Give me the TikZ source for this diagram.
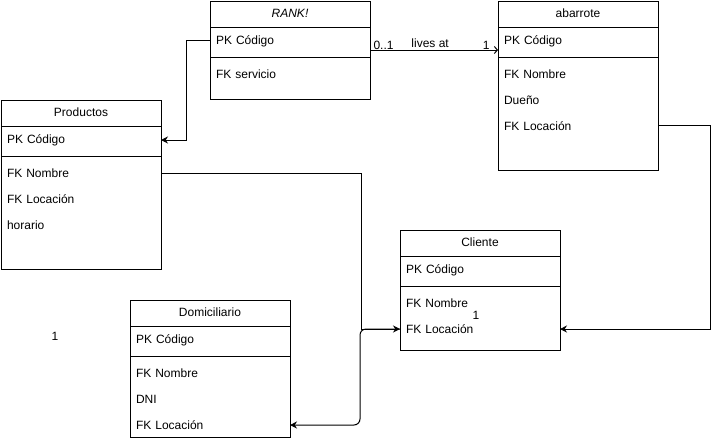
\documentclass[tikz,border=0pt]{standalone}
\usepackage{fontspec}
\setmainfont{Liberation Sans}
\usetikzlibrary{shapes.multipart, arrows.meta}

\begin{document}
\begin{tikzpicture}[x=1pt, y=-1pt,
    ENT/.style = {rectangle split, rectangle split parts=3,
                    draw, line width=1pt,
                    anchor=north west,
                    text width=148pt, align=left,
                    font=\fontsize{12}{26}\selectfont,
                    inner xsep=6pt, inner ysep=0pt, outer sep=0pt},
    LBL/.style = {font=\fontsize{12}{14}\selectfont, inner sep=0pt},
    FK/.style = {line width=1pt, -{Stealth[length=7pt,width=7pt]}}
                            ]
    \useasboundingbox (0,0) rectangle (719,442);

    \node (rank)  [ENT] at (210,1) {\nodepart{one}\rule[-9pt]{0pt}{25pt}\hfill\textit{RANK!}\hfill\mbox{}
                        \nodepart{two}\rule[-12pt]{0pt}{29pt}PK Código
                        \nodepart{three}\rule[-20pt]{0pt}{41pt}FK servicio
                        };
    \node (abarrote)  [ENT] at (498,1) {\nodepart{one}\rule[-9pt]{0pt}{25pt}\hfill abarrote\hfill\mbox{}
                        \nodepart{two}\rule[-12pt]{0pt}{29pt}PK Código
                        \nodepart{three}\rule{0pt}{21pt}FK Nombre\\ Dueño\\ FK Locación\rule[-39pt]{0pt}{39pt}
                        };
    \node (prod)  [ENT] at (1,100) {\nodepart{one}\rule[-9pt]{0pt}{25pt}\hfill Productos\hfill\mbox{}
                        \nodepart{two}\rule[-12pt]{0pt}{29pt}PK Código
                        \nodepart{three}\rule{0pt}{21pt}FK Nombre\\ FK Locación\\ horario\rule[-39pt]{0pt}{39pt}
                        };
    \node (cliente)  [ENT] at (400,230) {\nodepart{one}\rule[-9pt]{0pt}{25pt}\hfill Cliente\hfill\mbox{}
                        \nodepart{two}\rule[-12pt]{0pt}{29pt}PK Código
                        \nodepart{three}\rule{0pt}{21pt}FK Nombre\\ FK Locación\rule[-16pt]{0pt}{16pt}
                        };
    \node (dom)  [ENT] at (130,300) {\nodepart{one}\rule[-9pt]{0pt}{25pt}\hfill Domiciliario\hfill\mbox{}
                        \nodepart{two}\rule[-12pt]{0pt}{29pt}PK Código
                        \nodepart{three}\rule{0pt}{21pt}FK Nombre\\ DNI\\ FK Locación\rule[-7pt]{0pt}{7pt}
                        };

    \node (uno1) [LBL] at (476,315) {1};
    \node (uno2) [LBL] at (55,336) {1};

    \draw[FK] ([yshift=-39pt]rank.north west) -- ++(-24,0) |- ([yshift=-40pt]prod.north east);
    \draw[line width=1pt, -{Straight Barb[length=3pt,width=7pt]}] ([yshift=-49pt]rank.north east) --
        node[LBL, pos=0, anchor=south west, xshift=3pt] (card0) {0..1}
        node[LBL, pos=0.47, above=2pt] (rel) {lives at}
        node[LBL, pos=1, anchor=south east, xshift=-8pt] (card1) {1}
        ([yshift=-49pt]abarrote.north west);
    \draw[FK] ([yshift=-73pt]prod.north east) -- ++(200,0) |- ([yshift=-99pt]cliente.north west);
    \draw[FK, rounded corners=6pt] ([yshift=-99pt]cliente.north west) -- ++(-40,0) |- ([yshift=-125pt]dom.north east);
    \draw[FK] ([yshift=-124pt]abarrote.north east) -- ++(52,0) |- ([yshift=-99pt]cliente.north east);
\end{tikzpicture}
\end{document}
